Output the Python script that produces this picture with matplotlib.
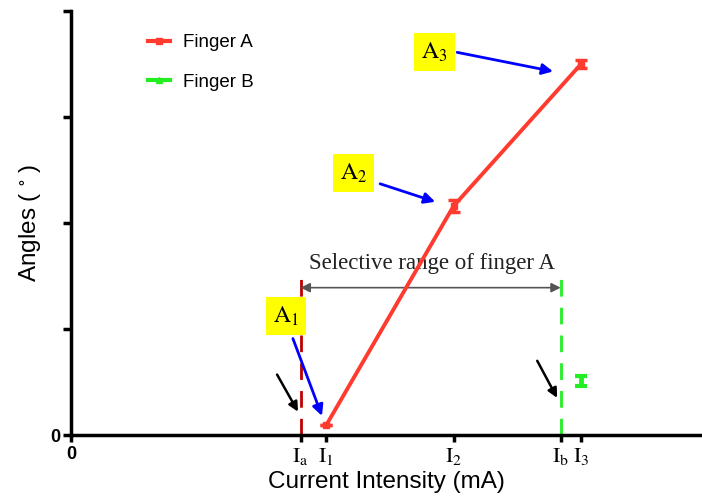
import matplotlib
matplotlib.use('Agg')
import matplotlib.pyplot as plt
from matplotlib.lines import Line2D

plt.rcParams['mathtext.fontset'] = 'stix'

# currents (arbitrary units) and angles
current_a = [5.0, 7.5, 10.0]
angle_a = [0.09, 2.16, 3.50]
err_a = [0.0, 0.06, 0.04]

current_b = [10.0]
angle_b = [0.51]
err_b = [0.05]

I_a = 4.5
I_b = 9.6

tick_pos = [0, I_a, 5.0, 7.5, I_b, 10.0]
tick_labels = ['0', r'$\mathrm{I}_\mathrm{a}$', r'$\mathrm{I}_{1}$', r'$\mathrm{I}_{2}$',
               r'$\mathrm{I}_\mathrm{b}$', r'$\mathrm{I}_{3}$']

fig = plt.figure(figsize=(7.02, 4.99), dpi=100)
ax = fig.add_axes([71/702, 64/499, 631/702, 424/499])

red = '#ff3b30'
green = '#22ee22'

ax.errorbar(current_a, angle_a, yerr=err_a, color=red, lw=2.8, marker='s', ms=5,
            capsize=4, capthick=2.5, elinewidth=2.5, zorder=5)
ax.errorbar(current_b, angle_b, yerr=err_b, color=green, lw=2.5, marker='none',
            capsize=4, capthick=3, elinewidth=3.5, zorder=5)

# boundary lines of selective range
ax.plot([I_a, I_a], [0, 1.49], color='#c00000', lw=2, dashes=(6, 4))
ax.plot([I_b, I_b], [0, 1.48], color=green, lw=2, dashes=(6, 4))

ax.annotate('', xy=(I_b, 1.39), xytext=(I_a, 1.39),
            arrowprops=dict(arrowstyle='<|-|>', color='#555555', lw=1.2,
                            mutation_scale=14, shrinkA=0, shrinkB=0))
ax.text(7.08, 1.62, 'Selective range of finger A', family='Liberation Serif',
        fontsize=16.5, ha='center', va='center', color='#222222')

# yellow labels with blue arrows
labels = [(r'$\mathrm{A}_{1}$', (4.21, 1.12), (4.35, 0.91), (4.92, 0.18)),
          (r'$\mathrm{A}_{2}$', (5.54, 2.47), (6.06, 2.37), (7.14, 2.20)),
          (r'$\mathrm{A}_{3}$', (7.13, 3.61), (7.57, 3.61), (9.45, 3.43))]
for txt, pos, start, end in labels:
    ax.text(pos[0], pos[1], txt, fontsize=17, ha='center', va='center',
            bbox=dict(boxstyle='square,pad=0.3', fc='#ffff00', ec='none'))
    ax.annotate('', xy=end, xytext=start,
                arrowprops=dict(arrowstyle='-|>', color='#0000ff', lw=2,
                                mutation_scale=16, shrinkA=0, shrinkB=0))

# black arrows
for start, end in [((4.04, 0.57), (4.45, 0.22)), ((9.14, 0.70), (9.53, 0.35))]:
    ax.annotate('', xy=end, xytext=start,
                arrowprops=dict(arrowstyle='-|>', color='black', lw=1.8,
                                mutation_scale=14, shrinkA=0, shrinkB=0))

ax.set_xlim(0, 12.37)
ax.set_ylim(0, 4.0)
ax.spines['top'].set_visible(False)
ax.spines['right'].set_visible(False)
ax.spines['left'].set_linewidth(2.5)
ax.spines['bottom'].set_linewidth(2.5)

ax.set_yticks([0, 1, 2, 3, 4])
ax.set_yticklabels(['0', '', '', '', ''], fontweight='bold', fontsize=13,
                   family='Liberation Sans')
ax.tick_params(axis='y', length=6, width=2.5, pad=2)
ax.set_xticks(tick_pos)
ax.set_xticklabels(tick_labels, fontsize=16)
ax.get_xticklabels()[0].set_fontweight('bold')
ax.get_xticklabels()[0].set_family('Liberation Sans')
ax.get_xticklabels()[0].set_fontsize(13)
ax.tick_params(axis='x', length=5, width=2.5, pad=3)

ax.set_xlabel('Current Intensity (mA)', family='Liberation Sans', fontsize=17.5)
ax.xaxis.set_label_coords(0.5, -0.085)
ax.set_ylabel('Angles ( $^{\\circ}$ )', family='Liberation Sans', fontsize=17.5, labelpad=5)

handles = [Line2D([], [], color=red, lw=3, marker='s', ms=4),
           Line2D([], [], color=green, lw=3, marker='^', ms=5)]
ax.legend(handles, ['Finger A', 'Finger B'], loc='upper left', bbox_to_anchor=(0.095, 0.985),
          frameon=False, prop={'family': 'Liberation Sans', 'size': 13.5},
          handlelength=1.2, labelspacing=1.2, handletextpad=0.7)

fig.savefig('out.png', dpi=100)
